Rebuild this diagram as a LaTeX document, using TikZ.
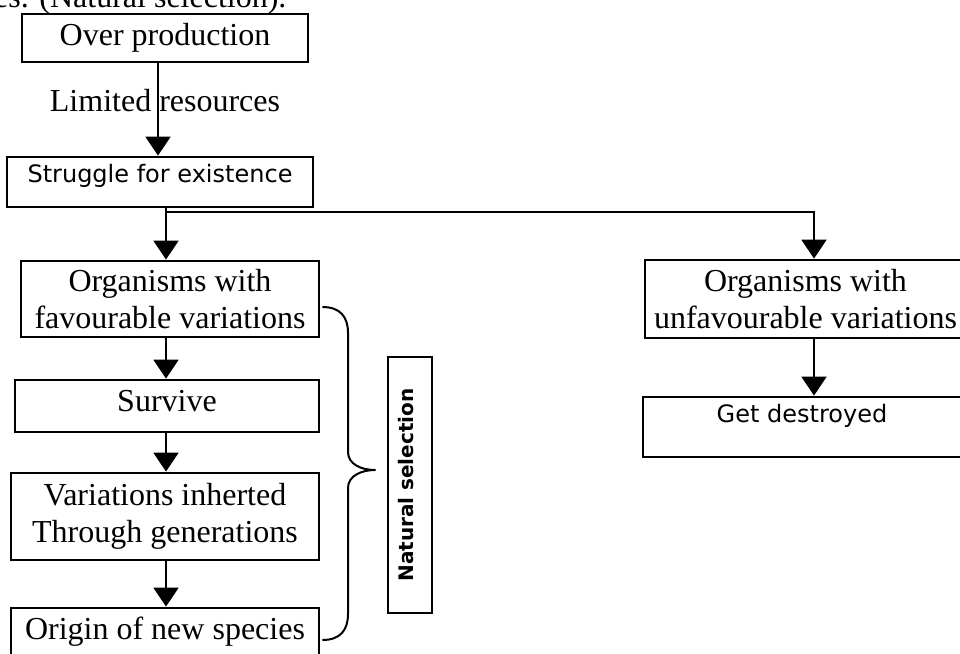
\documentclass[tikz,border=0pt]{standalone}
\usepackage{fontspec}
\setmainfont{Liberation Serif}
\newfontfamily\dvsans{DejaVu Sans}
\usepackage{tikz}
\usetikzlibrary{arrows.meta,positioning,calc}

\newcommand{\stagefont}{\fontsize{32}{36.5}\selectfont}
\newcommand{\sanslabel}{\dvsans\fontsize{24}{28}\selectfont}
\newcommand{\sideheading}{\dvsans\bfseries\fontsize{20}{24}\selectfont}

\begin{document}
\begin{tikzpicture}[
    x=1pt, y=-1pt,
    every node/.style={font=\stagefont},
    stage/.style={rectangle, draw=black, line width=2.8pt,
                  inner sep=0pt, align=center},
    sansstage/.style={stage, font=\sanslabel, inner ysep=0pt},
    sidebox/.style={rectangle, draw=black, line width=2.8pt, inner sep=0pt,
                    font=\sideheading, minimum width=256pt, minimum height=44pt,
                    text height=15pt, text depth=9pt},
    arrow/.style={-{Triangle[width=25pt,length=19pt]}, line width=2pt},
    bracepath/.style={line width=2pt, line join=round}
]
\useasboundingbox (0,0) rectangle (960,653);
\clip (0,0) rectangle (960,653);

% cut-off caption line at the top
\node[anchor=base east] (topcut) at (290,7) {es. (Natural selection).};

% Main chain
\node[stage, minimum width=286pt, minimum height=48pt] (over) at (165,38) {Over production};
\node[sansstage, minimum width=306pt, text height=25pt, text depth=25pt] (struggle) at (160,182) {Struggle for existence};
\node[stage, minimum width=298pt, minimum height=76pt] (fav) at (170,299) {Organisms with\\favourable variations};
\node[stage, minimum width=304pt, minimum height=52pt, text height=22pt, text depth=11pt] (survive) at (167,406) {Survive};
\node[stage, minimum width=308pt, minimum height=87pt] (inherit) at (165,516.5) {Variations inherted\\Through generations};
\node[stage, minimum width=308pt, minimum height=48pt] (origin) at (165,632) {Origin of new species};

% Right branch
\node[stage, minimum width=321pt, minimum height=78pt] (unfav) at (805.5,299) {Organisms with\\unfavourable variations};
\node[sansstage, minimum width=318pt, text height=25pt, text depth=35pt] (destroyed) at (802,427) {Get destroyed};

% Side heading
\node[sidebox, rotate=90] (natsel) at (410,485) {Natural selection};

% Columns for the arrows
\coordinate (ocol) at (158,0);
\coordinate (lcol) at (166,0);
\coordinate (rcol) at (814,0);
\coordinate (split) at (166,212);

% Arrows
\draw[arrow] (over.south -| ocol) -- node[pos=0.4, xshift=7pt] (limres) {Limited resources} (struggle.north -| ocol);
\draw[arrow] (struggle.south -| lcol) -- (fav.north -| lcol);
\draw[arrow] (split) -| (unfav.north -| rcol);
\draw[arrow] (fav.south -| lcol) -- (survive.north -| lcol);
\draw[arrow] (survive.south -| lcol) -- (inherit.north -| lcol);
\draw[arrow] (inherit.south -| lcol) -- (origin.north -| lcol);
\draw[arrow] (unfav.south -| rcol) -- (destroyed.north -| rcol);

% Brace
\coordinate (btop) at ([xshift=2pt,yshift=-8pt]fav.east);
\coordinate (bbot) at ([xshift=2pt,yshift=-8pt]origin.east);
\draw[bracepath] (btop) .. controls +(18,0) and +(0,-16) .. (348,333)
    -- (348,452) .. controls +(0,12) and +(-14,0) .. (375,470)
    .. controls +(-14,0) and +(0,-12) .. (348,488)
    -- (348,614) .. controls +(0,16) and +(18,0) .. (bbot);

\end{tikzpicture}
\end{document}
